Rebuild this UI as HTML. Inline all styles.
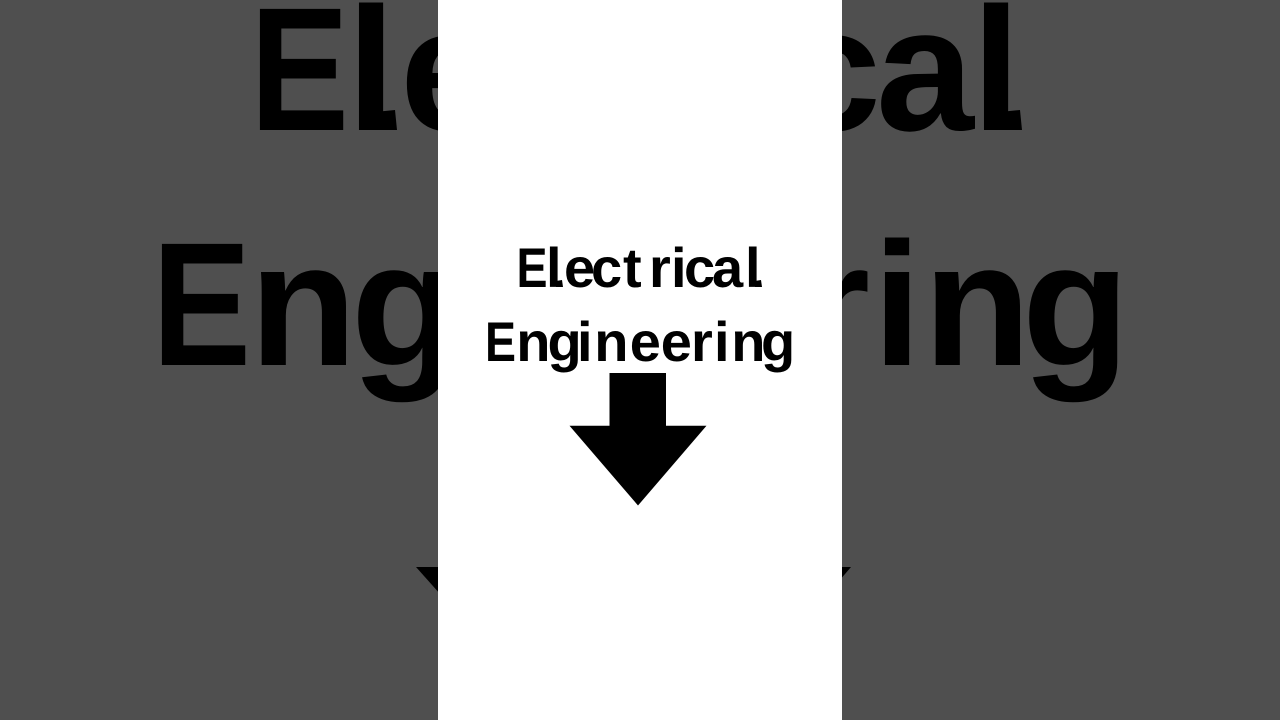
<!DOCTYPE html>
<html>
<head>
<meta charset="utf-8">
<style>
html,body{margin:0;padding:0;width:1280px;height:720px;overflow:hidden;background:#4f4f4f}
svg{display:block}
text{font-family:"Liberation Sans",sans-serif;font-weight:bold;fill:#000}
</style>
</head>
<body>
<svg width="1280" height="720" viewBox="0 0 1280 720" xmlns="http://www.w3.org/2000/svg">
<rect width="1280" height="720" fill="#4f4f4f"/>
<text x="250" y="130" font-size="176" textLength="99" lengthAdjust="spacingAndGlyphs">E</text>
<text x="346.7 400 480 560 620 700 783 876 971.7" y="130" font-size="176">lectrical</text>
<text x="152" y="365" font-size="176" textLength="99" lengthAdjust="spacingAndGlyphs">E</text>
<text x="249.4 351 450 500 560 640 801.6 872.7 923.4 1022" y="365" font-size="176">ngineering</text>
<polygon points="375,112 395,110 397,130 375,130" fill="#000"/>
<polygon points="1000,112 1020,110 1022,130 1000,130" fill="#000"/>
<polygon points="416,567 851,567 780,650 490,650" fill="#000"/>
<rect x="438" y="0" width="404" height="720" fill="#fff"/>
<text x="516.5" y="287" font-size="56" textLength="31" lengthAdjust="spacingAndGlyphs">E</text>
<text x="546 564 591 623 649 671 684 712 745" y="287" font-size="56">lectrical</text>
<text x="485" y="361" font-size="56" textLength="31" lengthAdjust="spacingAndGlyphs">E</text>
<text x="516.3 547.5 577 594.3 629.8 660.8 691 714 731.3 761" y="361" font-size="56">ngineering</text>
<polygon points="556,281 562,280 563,287 556,287" fill="#000"/>
<polygon points="755,281 761,280 762,287 755,287" fill="#000"/>
<polygon points="609.5,373 666,373 666,425.7 706.5,425.7 638,505.5 569.5,425.7 609.5,425.7" fill="#000"/>
</svg>
</body>
</html>
